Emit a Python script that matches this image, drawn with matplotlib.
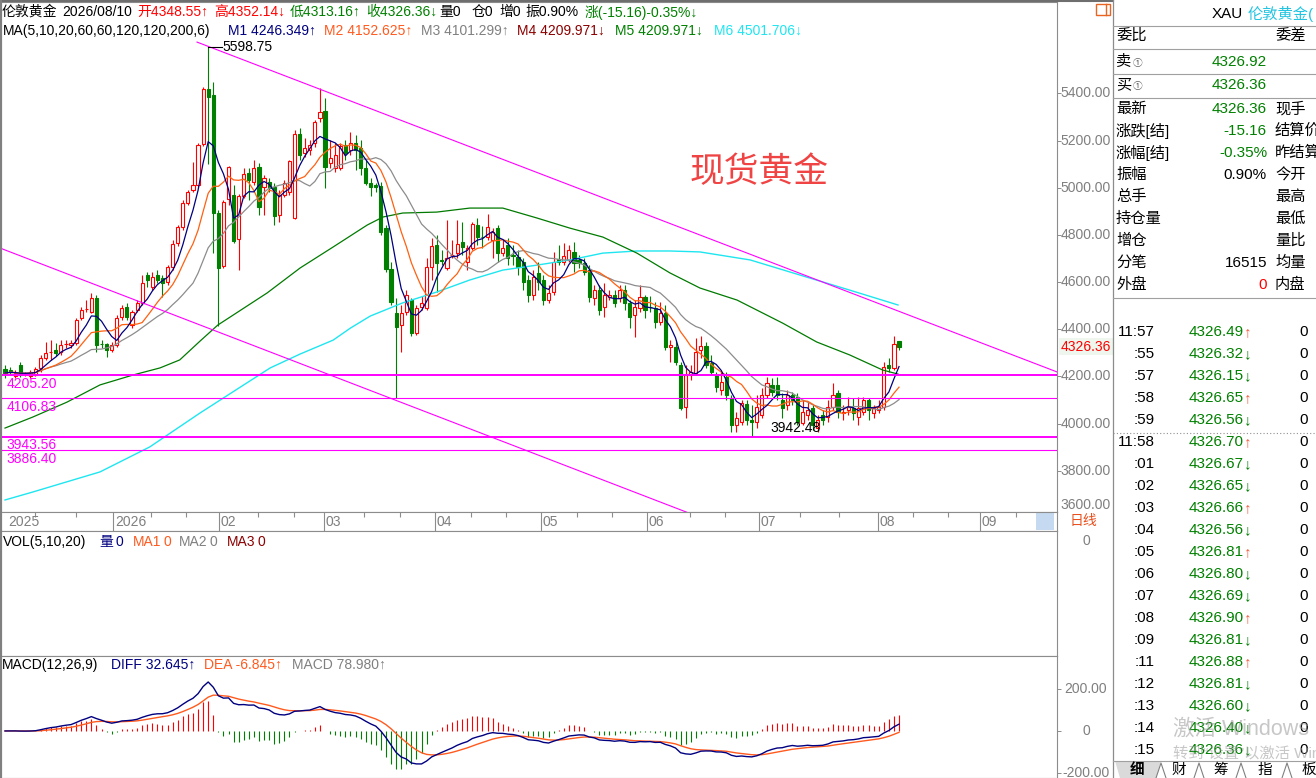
#!/usr/bin/env python3
"""
London gold daily K-line screen: candles + MA, VOL (empty), MACD, quote panel.
"""

import matplotlib

matplotlib.use("Agg")
import matplotlib.pyplot as plt
import numpy as np
import pandas as pd
from matplotlib.patches import Polygon, Rectangle
from matplotlib.transforms import blended_transform_factory

plt.rcParams["font.family"] = ["Liberation Sans", "Noto Sans CJK SC", "DejaVu Sans"]

W, H = 1316, 778

RED = "#FF0000"
GREEN = "#008000"
NAVY = "#000080"
ORANGE = "#FF5A1E"
GRAY = "#808080"
DARKRED = "#8B0000"
CYAN = "#1EE6F0"
MAGENTA = "#FF00FF"
FRAME = "#8C8C8C"

# ---- daily bars (Dec 2025 .. 2026/08/10) ----
opens = [4231, 4227, 4202, 4248, 4210, 4202, 4206, 4236, 4278, 4304,
         4312, 4304, 4337, 4333, 4342, 4448, 4486, 4473, 4533, 4337,
         4337, 4312, 4333, 4452, 4494, 4418, 4482, 4511, 4630, 4579,
         4630, 4617, 4600, 4664, 4766, 4834, 4935, 4990, 5012, 5186,
         5419, 5393, 4893, 4668, 4952, 4969, 4783, 4965, 5063, 5024,
         5088, 5003, 5024, 5003, 4884, 4969, 4982, 4872, 5228, 5147,
         5160, 5190, 5296, 5325, 5105, 5084, 5084, 5181, 5160, 5190,
         5169, 5084, 5020, 5011, 5007, 4829, 4656, 4469, 4418, 4473,
         4524, 4384, 4494, 4490, 4664, 4757, 4694, 4660, 4713, 4723,
         4770, 4685, 4744, 4842, 4793, 4791, 4778, 4829, 4723, 4757,
         4713, 4706, 4685, 4609, 4545, 4639, 4609, 4524, 4558, 4698,
         4685, 4694, 4728, 4694, 4681, 4651, 4533, 4566, 4494, 4537,
         4545, 4533, 4566, 4511, 4460, 4490, 4537, 4496, 4490, 4431,
         4469, 4325, 4325, 4248, 4070, 4206, 4215, 4312, 4329, 4257,
         4206, 4142, 4198, 4109, 3994, 4007, 4083, 4015, 4007, 4036,
         4121, 4164, 4164, 4100, 4079, 4121, 4113, 4003, 4036, 4066,
         3981, 4036, 4028, 4070, 4130, 4045, 4058, 4066, 4028, 4049,
         4100, 4045, 4058, 4070, 4248, 4236, 4348.55]
highs = [4248, 4240, 4227, 4261, 4219, 4227, 4240, 4291, 4346, 4354,
         4342, 4354, 4354, 4354, 4448, 4494, 4524, 4554, 4545, 4354,
         4342, 4346, 4460, 4503, 4511, 4482, 4524, 4630, 4643, 4643,
         4651, 4630, 4672, 4778, 4842, 4948, 4990, 5109, 5190, 5427,
         5598.75, 5448, 4906, 4948, 5092, 5012, 4973, 5084, 5084, 5118,
         5105, 5054, 5041, 5020, 4990, 5033, 5118, 5245, 5253, 5211,
         5202, 5287, 5423, 5380, 5202, 5190, 5190, 5202, 5236, 5224,
         5202, 5118, 5041, 5020, 5024, 4842, 4685, 4533, 4503, 4566,
         4533, 4503, 4541, 4702, 4787, 4800, 4736, 4863, 4778, 4863,
         4855, 4757, 4855, 4872, 4838, 4889, 4829, 4842, 4778, 4787,
         4757, 4736, 4702, 4630, 4651, 4685, 4630, 4588, 4728, 4757,
         4766, 4757, 4770, 4715, 4702, 4672, 4588, 4588, 4596, 4566,
         4566, 4588, 4588, 4524, 4524, 4588, 4545, 4541, 4516, 4516,
         4503, 4354, 4354, 4261, 4248, 4248, 4363, 4371, 4346, 4291,
         4219, 4219, 4219, 4121, 4049, 4100, 4100, 4079, 4121, 4151,
         4198, 4193, 4198, 4130, 4142, 4134, 4130, 4100, 4092, 4079,
         4036, 4058, 4100, 4172, 4142, 4079, 4113, 4109, 4113, 4113,
         4109, 4079, 4100, 4261, 4278, 4371, 4352.14]
lows = [4193, 4206, 4193, 4198, 4202, 4193, 4202, 4219, 4270, 4270,
        4287, 4291, 4321, 4321, 4333, 4439, 4473, 4469, 4304, 4321,
        4283, 4304, 4325, 4439, 4439, 4405, 4473, 4503, 4579, 4566,
        4596, 4537, 4588, 4651, 4753, 4821, 4927, 4982, 4999, 5177,
        5101, 4723, 4414, 4660, 4927, 4766, 4651, 4957, 4948, 5012,
        4884, 4884, 4982, 4842, 4855, 4961, 4969, 4867, 5118, 5130,
        5139, 5173, 5279, 4999, 5084, 5067, 5075, 5118, 5139, 5075,
        5054, 5012, 4965, 4982, 4800, 4643, 4503, 4109, 4304, 4460,
        4371, 4376, 4482, 4482, 4609, 4558, 4672, 4651, 4702, 4702,
        4715, 4651, 4736, 4757, 4744, 4778, 4702, 4685, 4711, 4672,
        4672, 4630, 4566, 4516, 4524, 4566, 4503, 4511, 4545, 4672,
        4672, 4685, 4643, 4660, 4630, 4516, 4503, 4460, 4452, 4524,
        4494, 4516, 4482, 4405, 4367, 4473, 4448, 4473, 4405, 4418,
        4312, 4261, 4248, 4058, 4024, 4185, 4206, 4278, 4236, 4206,
        4134, 4121, 4100, 3964, 3964, 3994, 3994, 3942.48, 3981, 4024,
        4109, 4117, 4100, 4024, 4058, 4079, 3994, 3994, 4015, 3973,
        3964, 3994, 4007, 4058, 4024, 4015, 4036, 4015, 3994, 4036,
        4015, 4024, 4045, 4058, 4219, 4227, 4313.16]
closes = [4215, 4219, 4215, 4206, 4211, 4219, 4231, 4278, 4299, 4305,
          4299, 4333, 4338, 4342, 4439, 4482, 4487, 4533, 4333, 4336,
          4312, 4333, 4448, 4490, 4452, 4473, 4511, 4596, 4609, 4622,
          4609, 4596, 4664, 4761, 4834, 4935, 4982, 5012, 5181, 5419,
          5385, 4893, 4660, 4940, 5088, 4774, 4965, 5058, 5033, 5084,
          4918, 5041, 4999, 4880, 4969, 5020, 5113, 5228, 5139, 5169,
          5181, 5279, 5321, 5088, 5126, 5139, 5177, 5147, 5190, 5160,
          5084, 5020, 5003, 5003, 4812, 4656, 4516, 4410, 4469, 4545,
          4384, 4490, 4511, 4664, 4753, 4681, 4690, 4702, 4715, 4761,
          4749, 4744, 4846, 4791, 4791, 4834, 4812, 4723, 4744, 4702,
          4711, 4664, 4600, 4545, 4622, 4600, 4524, 4554, 4685, 4685,
          4711, 4736, 4681, 4681, 4643, 4537, 4566, 4482, 4545, 4545,
          4511, 4566, 4511, 4452, 4494, 4537, 4482, 4494, 4431, 4469,
          4325, 4333, 4261, 4066, 4206, 4219, 4304, 4329, 4248, 4219,
          4155, 4176, 4121, 3994, 4024, 4087, 4015, 4007, 4070, 4121,
          4172, 4134, 4121, 4066, 4121, 4100, 4007, 4049, 4058, 3994,
          4015, 4015, 4070, 4121, 4049, 4049, 4070, 4045, 4066, 4100,
          4058, 4066, 4070, 4240, 4236, 4337, 4326.36]

# long moving averages (need history before the first bar) read as points
ma60_idx = [0, 5.5, 12.2, 18.7, 25.2, 30.5, 34.4, 38.4, 41.9, 44.9, 51.6, 58.1,
            64.6, 71.3, 74.4, 78.3, 85.0, 91.5, 98.0, 104.7, 111.2, 117.7,
            124.4, 130.9, 136.8, 144.1, 153.1, 159.8, 166.3, 172.8, 175.8]
ma60_val = [3981, 4028, 4091, 4164, 4206, 4236, 4270, 4350, 4418, 4460, 4554, 4660,
            4749, 4842, 4876, 4893, 4897, 4914, 4914, 4872, 4829, 4791,
            4723, 4639, 4575, 4524, 4426, 4346, 4291, 4227, 4210]
ma120_idx = [0, 5.5, 18.7, 28.5, 38.4, 52.2, 58.1, 64.6, 68.0, 71.9, 78.3, 85.0,
             91.5, 98.0, 104.7, 111.2, 117.7, 124.4, 130.9, 136.8, 146.7, 156.5,
             166.3, 175.8]
ma120_val = [3676, 3710, 3795, 3901, 4045, 4236, 4295, 4354, 4405, 4456, 4512,
             4558, 4609, 4651, 4672, 4694, 4723, 4732, 4732, 4728, 4694, 4630,
             4566, 4503]

# drawn studies
level_prices = [4205.20, 4106.83, 3943.56, 3886.40]
level_widths = [1.4, 0.8, 1.4, 0.8]
trend_upper = ([37.8, 207.1], [5618, 4219])
trend_lower = ([-0.8, 207.1], [4743, 3020])

price_ticks = [3800, 4000, 4200, 4400, 4600, 4800, 5000, 5200, 5400]
macd_ticks = [200, 0, -200]

month_pos = [0.2, 21.3, 42.1, 62.8, 84.6, 105.5, 126.4, 148.4, 171.8, 191.9]
month_labels = ["2025", "2026", "02", "03", "04", "05", "06", "07", "08", "09"]
minor_pos = [5.9, 14.0, 28.7, 35.6, 49.8, 56.9, 70.7, 77.8, 91.7, 98.6, 112.6,
             119.5, 134.8, 141.7, 156.5, 164.2, 178.7, 185.6, 199.0]

header1 = [(2, "伦敦黄金", "black"), (62, "2026/08/10", "black"),
           (137, "开4348.55↑", RED), (214, "高4352.14↓", RED),
           (290, "低4313.16↑", GREEN), (366, "收4326.36↓", GREEN),
           (439, "量0", "black"), (472, "仓0", "black"), (499, "增0", "black"),
           (525, "振0.90%", "black"), (585, "涨(-15.16)-0.35%↓", GREEN)]
header2 = [(3, "MA(5,10,20,60,60,120,120,200,6)", "black"),
           (228, "M1 4246.349↑", NAVY), (324, "M2 4152.625↑", ORANGE),
           (421, "M3 4101.299↑", GRAY), (517, "M4 4209.971↓", DARKRED),
           (615, "M5 4209.971↓", GREEN), (714, "M6 4501.706↓", CYAN)]
vol_header = [(3, "VOL(5,10,20)", "black"), (99, "量", NAVY), (116, "0", NAVY),
              (133, "MA1", ORANGE), (163, "0", ORANGE), (179, "MA2", GRAY),
              (210, "0", GRAY), (227, "MA3", DARKRED), (257, "0", DARKRED)]
macd_header = [(2, "MACD(12,26,9)", "black"), (111, "DIFF 32.645↑", NAVY),
               (204, "DEA -6.845↑", ORANGE), (292, "MACD 78.980↑", GRAY)]

# quote panel
quote_left = ["委比", "卖", "买", "最新", "涨跌[结]", "涨幅[结]", "振幅", "总手",
              "持仓量", "增仓", "分笔", "外盘"]
quote_value = ["", "4326.92", "4326.36", "4326.36", "-15.16", "-0.35%", "0.90%",
               "", "", "", "16515", "0"]
quote_value_color = ["black", GREEN, GREEN, GREEN, GREEN, GREEN, "black",
                     "black", "black", "black", "black", RED]
quote_right = ["委差", "", "", "现手", "结算价", "昨结算", "今开", "最高", "最低",
               "量比", "均量", "内盘"]
quote_y = [36, 62, 85, 109, 131, 153, 175, 197, 219, 241, 263, 285]

tick_times = ["11:57", ":55", ":57", ":58", ":59", "11:58", ":01", ":02", ":03", ":04",
              ":05", ":06", ":07", ":08", ":09", ":11", ":12", ":13", ":14", ":15"]
tick_prices = [4326.49, 4326.32, 4326.15, 4326.65, 4326.56, 4326.70, 4326.67,
               4326.65, 4326.66, 4326.56, 4326.81, 4326.80, 4326.69, 4326.90,
               4326.81, 4326.88, 4326.81, 4326.60, 4326.40, 4326.36]
tick_dirs = ["↑", "↓", "↓", "↑", "↓", "↑", "↓", "↓", "↑", "↓",
             "↑", "↓", "↓", "↑", "↓", "↑", "↓", "↓", "↓", "↓"]
tick_vols = [0, 0, 0, 0, 0, 0, 0, 0, 0, 0, 0, 0, 0, 0, 0, 0, 0, 0, 0, 0]
tab_labels = ["细", "财", "筹", "指", "板"]
tab_x = [1137, 1179, 1221, 1265, 1309]

XLIM = (-0.79, 207.1)


def px_axes(x0, y0, x1, y1):
    return fig.add_axes([x0 / W, 1 - y1 / H, (x1 - x0) / W, (y1 - y0) / H])


def style_panel(ax):
    ax.set_xlim(*XLIM)
    ax.set_xticks([])
    for sp in ax.spines.values():
        sp.set_color(FRAME)
        sp.set_linewidth(0.8)
    ax.yaxis.set_ticks_position("right")
    ax.tick_params(axis="y", which="both", left=False, labelleft=False,
                   right=True, labelright=False, length=3, width=0.7, color=FRAME)


def right_labels(ax, values, fmt):
    tr = blended_transform_factory(ax.transAxes, ax.transData)
    xc = 1 + 29 / ax.bbox.width
    for v in values:
        ax.text(xc, v, fmt(v), transform=tr, ha="center", va="center",
                fontsize=10, color="#7F7F7F", clip_on=False)


fig = plt.figure(figsize=(W / 100, H / 100), dpi=100)
fig.patch.set_facecolor("white")

o = np.array(opens, dtype=float)
h = np.array(highs, dtype=float)
l = np.array(lows, dtype=float)
c = np.array(closes, dtype=float)
idx = np.arange(len(c))
up = c >= o

cl = pd.Series(c)
ma5 = cl.rolling(5, min_periods=1).mean()
ma10 = cl.rolling(10, min_periods=1).mean()
ma20 = cl.rolling(20, min_periods=1).mean()
ema12 = cl.ewm(span=12, adjust=False).mean()
ema26 = cl.ewm(span=26, adjust=False).mean()
diff = ema12 - ema26
dea = diff.ewm(span=9, adjust=False).mean()
macd = 2 * (diff - dea)

# ---------------- price panel ----------------
ax = px_axes(1, 2, 1057, 512)
style_panel(ax)
ax.set_ylim(3625, 5788)
ax.set_yticks(price_ticks)
ax.tick_params(axis="y", labelright=False, labelleft=False)
right_labels(ax, price_ticks, lambda v: f"{v:.2f}")

ax.vlines(idx[up], l[up], h[up], color=RED, lw=0.8, zorder=2)
ax.vlines(idx[~up], l[~up], h[~up], color=GREEN, lw=0.8, zorder=2)
ax.bar(idx[up], (c - o)[up], bottom=o[up], width=0.62, facecolor="white",
       edgecolor=RED, linewidth=0.8, zorder=3)
ax.bar(idx[~up], (o - c)[~up], bottom=c[~up], width=0.62, facecolor=GREEN,
       edgecolor=GREEN, linewidth=0.8, zorder=3)

ax.plot(ma120_idx, ma120_val, color=CYAN, lw=1.0, zorder=4)
ax.plot(ma60_idx, ma60_val, color="#007A00", lw=0.9, zorder=4)
ax.plot(idx, ma20, color="#8C8C8C", lw=0.9, zorder=4)
ax.plot(idx, ma10, color="#FF6010", lw=0.9, zorder=4)
ax.plot(idx, ma5, color=NAVY, lw=0.9, zorder=5)

for p, lw in zip(level_prices, level_widths):
    ax.axhline(p, color=MAGENTA, lw=lw, zorder=6)
    ax.text(0.3, p - 6, f"{p:.2f}", color=MAGENTA, fontsize=10, va="top",
            ha="left", zorder=7)
ax.plot(*trend_upper, color=MAGENTA, lw=0.8, zorder=6)
ax.plot(*trend_lower, color=MAGENTA, lw=0.8, zorder=6)

hi = int(np.argmax(h))
ax.plot([hi, hi + 2.8], [h[hi], h[hi]], color="black", lw=0.8, zorder=7)
ax.text(hi + 2.9, h[hi], f"{h[hi]:.2f}", fontsize=10, va="center", ha="left", zorder=7)
lo = int(np.argmin(l))
ax.text(lo + 3.7, l[lo] + 8, f"{l[lo]:.2f}", fontsize=10, va="bottom", ha="left", zorder=7)

ax.text(134.8, 5065, "现货黄金", fontsize=25, color="#F04444", ha="left", va="center",
        family=["Noto Sans CJK SC"])

# last price tag on the axis
tr = blended_transform_factory(ax.transAxes, ax.transData)
ax.text(1 + 29 / ax.bbox.width, c[-1], f"{c[-1]:.2f}", transform=tr, ha="center",
        va="center", fontsize=10, color=RED, clip_on=False,
        bbox=dict(boxstyle="square,pad=0.1", facecolor="#EEF6EE", edgecolor="none"))
tr2 = blended_transform_factory(ax.transAxes, ax.transAxes)
ax.text(1 + 29 / ax.bbox.width, -0.0, "3600.00", transform=tr2, ha="center",
        va="bottom", fontsize=10, color="#7F7F7F", clip_on=False)

# ---------------- date row ----------------
axr = px_axes(1, 512, 1057, 531)
axr.set_xlim(*XLIM)
axr.set_ylim(0, 1)
axr.set_xticks([])
axr.set_yticks([])
for sp in axr.spines.values():
    sp.set_color(FRAME)
    sp.set_linewidth(0.8)
axr.vlines(month_pos[1:], 0, 1, color=FRAME, lw=0.8)
axr.vlines(minor_pos, 0.72, 1, color=FRAME, lw=0.8)
for x, lab in zip(month_pos, month_labels):
    axr.text(x + 0.35, 0.45, lab, fontsize=10, color="#7F7F7F", va="center", ha="left")
axr.add_patch(Rectangle((202.9, 0.06), 3.6, 0.9, facecolor="#C5DAF0", edgecolor="none"))

# ---------------- volume panel ----------------
axv = px_axes(1, 531, 1057, 656)
style_panel(axv)
axv.set_ylim(0, 1)
axv.set_yticks([])
trv = blended_transform_factory(axv.transAxes, axv.transAxes)
axv.text(1 + 29 / axv.bbox.width, 0.92, "0", transform=trv, ha="center", va="center",
         fontsize=10, color="#7F7F7F", clip_on=False)

# ---------------- MACD panel ----------------
axm = px_axes(1, 656, 1057, 778)
style_panel(axm)
axm.set_ylim(-224, 357)
axm.set_yticks(macd_ticks)
axm.tick_params(axis="y", labelright=False, labelleft=False)
right_labels(axm, macd_ticks, lambda v: "0" if v == 0 else f"{v:.2f}")
pos = macd.values >= 0
axm.vlines(idx[pos], 0, macd.values[pos], color=RED, lw=0.8)
axm.vlines(idx[~pos], 0, macd.values[~pos], color=GREEN, lw=0.8)
axm.plot(idx, dea, color="#FF5A1E", lw=1.0)
axm.plot(idx, diff, color=NAVY, lw=1.0)

# ---------------- overlay: headers, frame, quote panel ----------------
ov = fig.add_axes([0, 0, 1, 1])
ov.set_xlim(0, W)
ov.set_ylim(H, 0)
ov.axis("off")
ov.patch.set_alpha(0)

for x, s, col in header1:
    ov.text(x, 12, s, color=col, fontsize=10, va="center", ha="left")
for x, s, col in header2:
    ov.text(x, 31, s, color=col, fontsize=10, va="center", ha="left")
for x, s, col in vol_header:
    ov.text(x, 542, s, color=col, fontsize=10, va="center", ha="left")
for x, s, col in macd_header:
    ov.text(x, 665, s, color=col, fontsize=10, va="center", ha="left")

ov.plot([0, 1113], [1, 1], color="#6E6E6E", lw=1.5)
ov.plot([0.7, 0.7], [0, H], color=GRAY, lw=1.5)
ov.plot([1113, 1113], [0, H], color=FRAME, lw=0.9)
ov.text(1070, 521, "日线", color="#E8501E", fontsize=10, va="center", ha="left")
ov.add_patch(Rectangle((1096, 4), 14, 11, facecolor="white", edgecolor="#E86420", lw=1.0))
ov.plot([1106, 1106], [4, 15], color="#E86420", lw=1.0)

# quote panel
ov.text(1212, 14, "XAU", fontsize=11, va="center", ha="left")
ov.text(1248, 14, "伦敦黄金(", fontsize=11, va="center", ha="left", color="#22C4E0")
for yy in [26, 49, 74, 98, 298]:
    ov.plot([1113, W], [yy, yy], color="#A0A0A0", lw=0.8)
for lab, val, vcol, rlab, yy in zip(quote_left, quote_value, quote_value_color,
                                    quote_right, quote_y):
    ov.text(1116, yy, lab, fontsize=11, va="center", ha="left")
    if lab in ("卖", "买"):
        ov.text(1133, yy + 1, "①", fontsize=7, va="center", ha="left", color="#606060")
    if val:
        ov.text(1267, yy, val, fontsize=11, va="center", ha="right", color=vcol)
    if rlab:
        ov.text(1275, yy, rlab, fontsize=11, va="center", ha="left")

for k, (t, p, d, v) in enumerate(zip(tick_times, tick_prices, tick_dirs, tick_vols)):
    yy = 332 + 22 * k
    ov.text(1155, yy, t, fontsize=11, va="center", ha="right")
    ov.text(1244, yy, f"{p:.2f}", fontsize=11, va="center", ha="right", color=GREEN)
    ov.text(1244, yy, d, fontsize=11, va="center", ha="left",
            color="#F06040" if d == "↑" else GREEN)
    ov.text(1308, yy, str(v), fontsize=11, va="center", ha="right")
ov.plot([1113, W], [432.5, 432.5], color="#909090", lw=0.8, ls=(0, (1, 2)))

ov.text(1173, 729, "激活 Windows", fontsize=15.5, color="#999999", alpha=0.55,
        va="center", ha="left")
ov.text(1173, 753, "转到“设置”以激活 Windows。", fontsize=11, color="#999999",
        alpha=0.55, va="center", ha="left")

ov.plot([1113, W], [761, 761], color="#A0A0A0", lw=0.8)
ov.add_patch(Polygon([(1115, 761), (1120, 778), (1156, 778), (1161, 761)],
                     closed=True, facecolor="#DADADA", edgecolor="none"))
for sx in [1161, 1199, 1241, 1287]:
    ov.plot([sx - 5, sx, sx + 5], [778, 763, 778], color="#808080", lw=0.8)
for tx, lab in zip(tab_x, tab_labels):
    ov.text(tx, 770, lab, fontsize=10.5, va="center", ha="center",
            fontweight="bold" if lab == "细" else "normal")

fig.savefig("out.png", dpi=100)
